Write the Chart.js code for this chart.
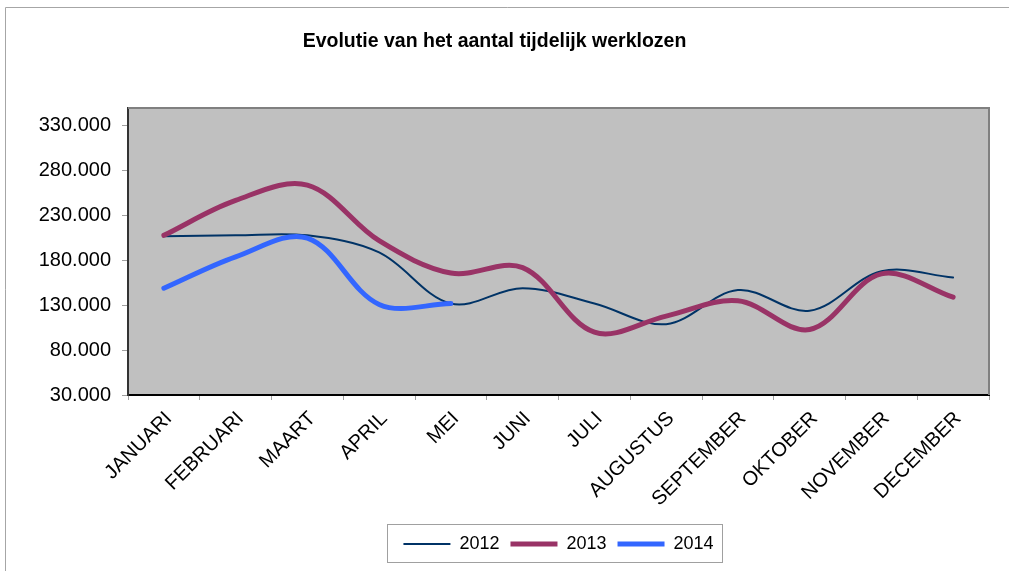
<!DOCTYPE html>
<html>
<head>
<meta charset="utf-8">
<script src="https://cdn.jsdelivr.net/npm/chart.js@4"></script>
<style>
  html, body { margin: 0; padding: 0; background: #fff; }
  #wrap { width: 1009px; height: 571px; }
</style>
</head>
<body>
<div id="wrap"><canvas id="werkloosChart" width="1009" height="571"></canvas></div>
<script>
const months = ["JANUARI", "FEBRUARI", "MAART", "APRIL", "MEI", "JUNI",
    "JULI", "AUGUSTUS", "SEPTEMBER", "OKTOBER", "NOVEMBER", "DECEMBER"];
const series2012 = [207000, 208000, 208000, 189000, 132000, 149000, 132000, 109000, 147000, 124000, 168000, 161000];
const series2013 = [208000, 247000, 264000, 202000, 166000, 172000, 100000, 118000, 135000, 103000, 165000, 139000];
const series2014 = [149000, 184000, 205000, 131000, 132000, null, null, null, null, null, null, null];
const yTicks = [30000, 80000, 130000, 180000, 230000, 280000, 330000];

function formatNl(v) {
    return String(v).replace(/\B(?=(\d{3})+(?!\d))/g, ".");
}

// grey plot area, frame around the chart and a box around the legend
const excelLook = {
    id: "excelLook",
    beforeDraw(chart) {
        const ctx = chart.ctx;
        const a = chart.chartArea;
        ctx.save();
        ctx.fillStyle = "#C0C0C0";
        ctx.fillRect(a.left, a.top, a.right - a.left, a.bottom - a.top);
        ctx.strokeStyle = "#A6A6A6";
        ctx.lineWidth = 1;
        ctx.beginPath();
        ctx.moveTo(5.5, 571);
        ctx.lineTo(5.5, 7.5);
        ctx.lineTo(1009, 7.5);
        ctx.stroke();
        ctx.restore();
    },
    beforeDatasetsDraw(chart) {
        const ctx = chart.ctx;
        const a = chart.chartArea;
        ctx.save();
        ctx.strokeStyle = "#808080";
        ctx.lineWidth = 2;
        ctx.beginPath();
        ctx.moveTo(a.left, a.top);
        ctx.lineTo(a.right, a.top);
        ctx.lineTo(a.right, a.bottom);
        ctx.stroke();
        ctx.restore();
    },
    afterDraw(chart) {
        const boxes = chart.legend.legendHitBoxes;
        if (!boxes || !boxes.length) return;
        const first = boxes[0];
        const last = boxes[boxes.length - 1];
        const ctx = chart.ctx;
        ctx.save();
        ctx.strokeStyle = "#A0A0A0";
        ctx.lineWidth = 1;
        const x1 = Math.round(first.left - 16) + 0.5;
        const x2 = Math.round(last.left + last.width + 8) + 0.5;
        const y1 = Math.round(chart.legend.top) + 0.5;
        const y2 = Math.round(chart.legend.bottom - 1) + 0.5;
        ctx.strokeRect(x1, y1, x2 - x1, y2 - y1);
        ctx.restore();
    }
};

const ctx = document.getElementById("werkloosChart").getContext("2d");

new Chart(ctx, {
    type: "line",
    data: {
        labels: months,
        datasets: [
            {
                label: "2012",
                data: series2012,
                borderColor: "#003366",
                backgroundColor: "#003366",
                borderWidth: 2,
                order: 3,
            },
            {
                label: "2013",
                data: series2013,
                borderColor: "#993366",
                backgroundColor: "#993366",
                borderWidth: 5,
                order: 2,
            },
            {
                label: "2014",
                data: series2014,
                borderColor: "#3366FF",
                backgroundColor: "#3366FF",
                borderWidth: 5,
                order: 1,
            },
        ],
    },
    options: {
        responsive: false,
        animation: false,
        layout: {
            padding: { left: 0, right: 20, top: 0, bottom: 8 },
        },
        elements: {
            point: { radius: 0, hoverRadius: 0 },
            line: { tension: 0.35, borderCapStyle: "round", borderJoinStyle: "round" },
        },
        scales: {
            x: {
                offset: true,
                grid: {
                    offset: true,
                    drawOnChartArea: false,
                    drawTicks: true,
                    tickLength: 5,
                    color: "#A0A0A0",
                },
                border: { color: "#000000", width: 2 },
                ticks: {
                    minRotation: 45,
                    maxRotation: 45,
                    autoSkip: false,
                    padding: 7,
                    labelOffset: 5,
                    color: "#000000",
                    font: { family: "'Liberation Sans', Arial, sans-serif", size: 20 },
                },
                afterFit(scale) {
                    scale.height = 129;
                },
            },
            y: {
                min: 30000,
                max: 350000,
                grid: {
                    drawOnChartArea: false,
                    drawTicks: true,
                    tickLength: 6,
                    color: "#A0A0A0",
                },
                border: { color: "#333333", width: 2 },
                ticks: {
                    padding: 11,
                    color: "#000000",
                    font: { family: "'Liberation Sans', Arial, sans-serif", size: 20 },
                    callback: (v) => formatNl(v),
                },
                afterBuildTicks(scale) {
                    scale.ticks = yTicks.map((v) => ({ value: v }));
                },
                afterFit(scale) {
                    scale.width = 128;
                },
            },
        },
        plugins: {
            title: {
                display: true,
                text: "Evolutie van het aantal tijdelijk werklozen",
                color: "#000000",
                font: { family: "'Liberation Sans', Arial, sans-serif", size: 19.5, weight: "bold" },
                padding: { top: 30, bottom: 54.6 },
            },
            legend: {
                position: "bottom",
                fullSize: false,
                labels: {
                    usePointStyle: true,
                    pointStyle: "line",
                    pointStyleWidth: 47,
                    padding: 11,
                    color: "#000000",
                    font: { family: "'Liberation Sans', Arial, sans-serif", size: 18 },
                    sort: (a, b) => a.datasetIndex - b.datasetIndex,
                },
            },
            tooltip: { enabled: false },
        },
    },
    plugins: [excelLook],
});
</script>
</body>
</html>
